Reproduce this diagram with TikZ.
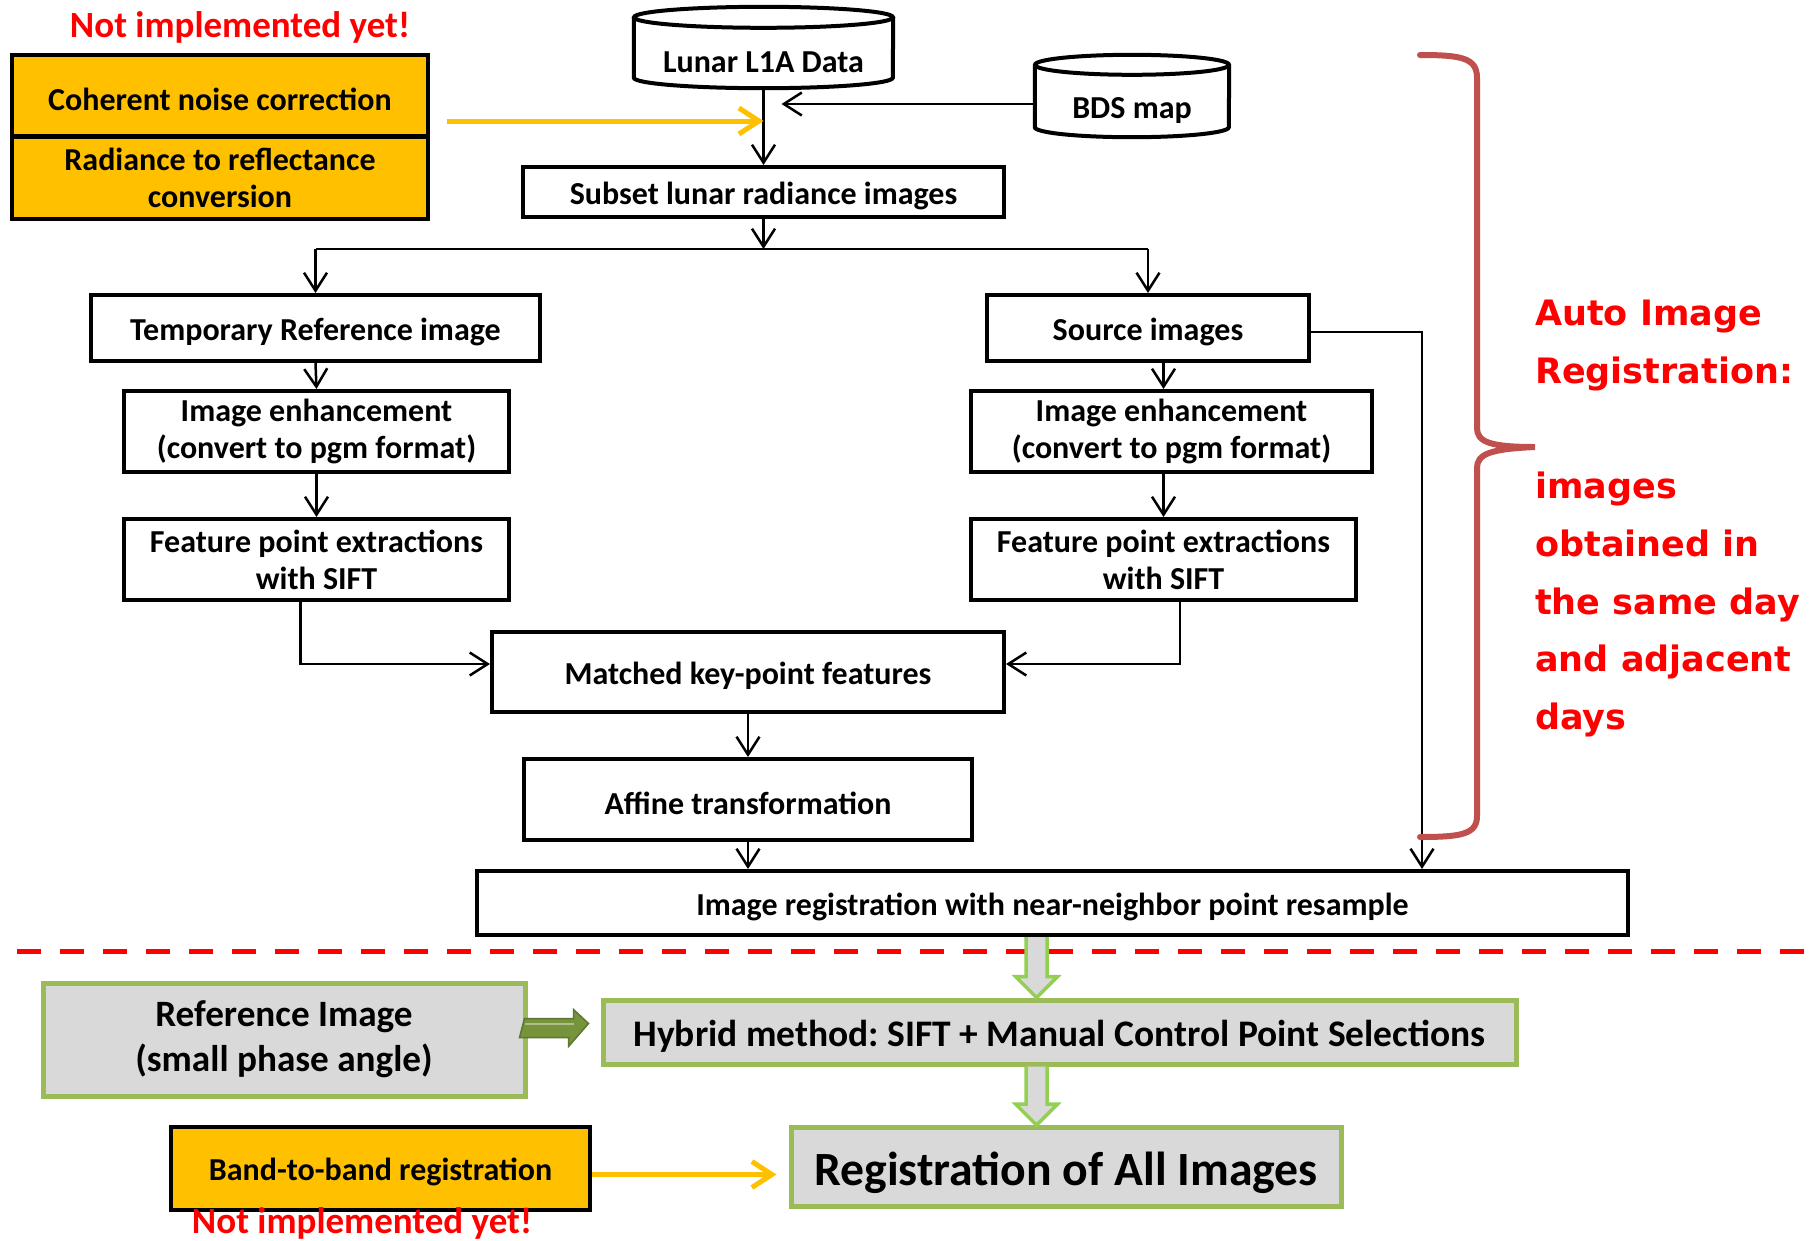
\documentclass[tikz,border=0pt]{standalone}
\usepackage{fontspec}
\setmainfont{Carlito}
\newfontfamily\verd{DejaVu Sans}
\usetikzlibrary{arrows.meta,calc}
\definecolor{orng}{HTML}{FFC000}
\definecolor{grnb}{HTML}{9BBB59}
\definecolor{grnl}{HTML}{92D050}
\definecolor{grnd}{HTML}{77933C}
\definecolor{lgray}{HTML}{D9D9D9}
\definecolor{brc}{HTML}{C0504D}
\newcommand\mycyl[3]{%
  \draw[cyl] ($(#1.north)+(0,-#3)$) ellipse [x radius=#2, y radius=#3];
  \draw[cyl] ($(#1.north west)+(0,-#3)$) -- ($(#1.south west)+(0,-#3)$)
     arc[start angle=180, end angle=0, x radius=#2, y radius=#3] -- ($(#1.north east)+(0,-#3)$);}
\frenchspacing
\begin{document}
\begin{tikzpicture}[x=1pt,y=-1pt,
  font=\bfseries\fontsize{32}{37}\selectfont,
  lowtext/.style={execute at begin node={\rule{0pt}{0.94em}}},
  box/.style={draw=black, line width=4pt, fill=white, inner sep=0pt, align=center, lowtext},
  obox/.style={box, fill=orng},
  gbox/.style={draw=grnb, line width=5pt, fill=lgray, inner sep=0pt, align=center, lowtext},
  plain/.style={inner sep=0pt, align=center},
  cyl/.style={draw=black, line width=4pt},
  line/.style={line width=2.5pt},
  conn/.style={line width=2.5pt, -{Straight Barb[length=18pt,width=23pt,line width=2.5pt]}},
  yarrow/.style={draw=orng, line width=5pt, -{Straight Barb[length=20pt,width=26pt,line width=5pt]}},
  hollow/.style={draw=grnl, line width=3.5pt, fill=lgray, line join=miter},
  redtxt/.style={text=red, inner sep=0pt, font=\bfseries\fontsize{37}{44}\selectfont}]
\useasboundingbox (0,0) rectangle (1810,1240);
\fill[white] (0,0) rectangle (1810,1240);

% top-left orange boxes
\node[redtxt] (nie1) at (240,27) {Not implemented yet!};
\node[obox, minimum width=416pt, minimum height=81pt] (coh) at (220,95.5) {Coherent noise correction};
\node[obox, minimum width=416pt, minimum height=82pt] (rad) at (220,178) {Radiance to reflectance\\conversion};

% cylinders
\node[plain, lowtext, minimum width=259pt, minimum height=60pt] (lunar) at (763.5,58) {Lunar L1A Data};
\mycyl{lunar}{129.5}{10.5}
\node[plain, lowtext, minimum width=194pt, minimum height=62pt] (bds) at (1132,106) {BDS map};
\mycyl{bds}{97}{10}

\node[box, minimum width=481pt, minimum height=50pt] (subset) at (763.5,192) {Subset lunar radiance images};
\draw[conn] (lunar.south) -- (subset.north);
\coordinate (bdsend) at ($(lunar.south |- bds.west)+(18,-2)$);
\draw[conn] ($(bds.west)+(0,-2)$) -- (bdsend);
\coordinate (ystart) at ($(coh.south east)+(17,-17)$);
\coordinate (yend) at (ystart -| lunar.south);
\draw[yarrow] (ystart) -- (yend);

% two branches
\node[box, minimum width=449pt, minimum height=66pt] (temp) at (315.5,328) {Temporary Reference image};
\node[box, minimum width=322pt, minimum height=66pt] (source) at (1148,328) {Source images};
\coordinate (split) at ($(subset.south)+(0,30)$);
\draw[conn] (subset.south) -- (split);
\draw[line] (split -| temp.north) -- (split -| source.north);
\draw[conn] (split -| temp.north) -- (temp.north);
\draw[conn] (split -| source.north) -- (source.north);

\node[box, minimum width=385pt, minimum height=81pt] (enhL) at (316.5,431.5) {Image enhancement\\(convert to pgm format)};
\node[box, minimum width=401pt, minimum height=81pt] (enhR) at (1171.5,431.5) {Image enhancement\\(convert to pgm format)};
\node[box, minimum width=385pt, minimum height=81pt] (featL) at (316.5,559.5) {Feature point extractions\\with SIFT};
\node[box, minimum width=385pt, minimum height=81pt] (featR) at (1163.5,559.5) {Feature point extractions\\with SIFT};
\draw[conn] (temp.south) -- (enhL.north);
\draw[conn] (enhL.south) -- (featL.north);
\draw[conn] (source.south -| featR.north) -- (featR.north |- enhR.north);
\draw[conn] (enhR.south -| featR.north) -- (featR.north);

\node[box, minimum width=512pt, minimum height=80pt] (matched) at (748,672) {Matched key-point features};
\node[box, minimum width=448pt, minimum height=81pt] (affine) at (748,799.5) {Affine transformation};
\node[box, minimum width=1151pt, minimum height=64pt] (imgreg) at (1052.5,903) {Image registration with near-neighbor point resample};
\draw[conn] ($(featL.south)+(-16,0)$) |- ($(matched.west)+(0,-8)$);
\draw[conn] ($(featR.south)+(16.5,0)$) |- ($(matched.east)+(0,-8)$);
\draw[conn] (matched.south) -- (affine.north);
\draw[conn] (affine.south) -- (affine.south |- imgreg.north);
\draw[conn] ($(source.east)+(0,4)$) -| ($(imgreg.north east)+(-208,0)$);

% brace
\draw[brc, line width=6pt, line cap=round]
  (1420,55) .. controls (1462,55) and (1477,58) .. (1477,78) -- (1477,428)
  .. controls (1477,442) and (1490,447) .. (1535,447)
  .. controls (1490,449) and (1477,454) .. (1477,468) -- (1477,816)
  .. controls (1477,834) and (1462,837) .. (1420,837);
\node[anchor=north west, inner sep=0pt, text=red, align=left,
  font=\verd\bfseries\fontsize{35}{57.7}\selectfont] (autotxt) at (1535,300)
  {Auto Image\\Registration:\\[57.7pt]images\\obtained in\\the same day\\and adjacent\\days};

% dashed separator
\draw[red, line width=5pt, dash pattern=on 24pt off 19pt] (17,951) -- (1810,951);

% lower part
\node[gbox, minimum width=482pt, minimum height=113pt, font=\bfseries\fontsize{37.2}{45}\selectfont] (refimg) at (284,1039.5) {Reference Image\\(small phase angle)};
\node[gbox, minimum width=913pt, minimum height=64pt, font=\bfseries\fontsize{37.5}{45}\selectfont] (hyb) at (1059.5,1032) {Hybrid method: SIFT + Manual Control Point Selections};
\node[obox, minimum width=419pt, minimum height=83pt] (band) at (380.5,1168.5) {Band-to-band registration};
\node[gbox, minimum width=550pt, minimum height=79pt, font=\bfseries\fontsize{47.7}{57}\selectfont] (regall) at (1066,1167) {Registration of All Images};
\node[redtxt] (nie2) at (362,1223) {Not implemented yet!};

% dark green block arrow
\coordinate (da) at ($(refimg.east)+(-3,-16)$);
\draw[fill=grnd, draw=grnd!80!black, line width=1.5pt, line join=miter]
  ($(da)+(0,-5)$) -- ++(49,0) -- ++(0,-9) -- ($(da -| hyb.west)+(-12,0)$) -- ++(-20,23) -- ++(0,-9) -- ++(-49,0) -- cycle;
\draw[grnd!60!white, line width=2pt] (da) -- ++(49,0);

% hollow green arrows
\coordinate (g1top) at ($(imgreg.south)+(-16,0)$);
\coordinate (g1tip) at (g1top |- hyb.north);
\draw[hollow] ($(g1top)+(-10.5,0)$) -- ($(g1tip)+(-10.5,-21)$) -- ($(g1tip)+(-21,-21)$) -- (g1tip) -- ($(g1tip)+(21,-21)$) -- ($(g1tip)+(10.5,-21)$) -- ($(g1top)+(10.5,0)$);
\coordinate (g2top) at (g1top |- hyb.south);
\coordinate (g2tip) at (g1top |- regall.north);
\draw[hollow] ($(g2top)+(-10.5,0)$) -- ($(g2tip)+(-10.5,-21)$) -- ($(g2tip)+(-21,-21)$) -- (g2tip) -- ($(g2tip)+(21,-21)$) -- ($(g2tip)+(10.5,-21)$) -- ($(g2top)+(10.5,0)$);

% yellow arrow band -> regall
\draw[yarrow] ($(band.east)+(0,6)$) -- ($(regall.west |- band.east)+(-12,6)$);
\end{tikzpicture}
\end{document}
